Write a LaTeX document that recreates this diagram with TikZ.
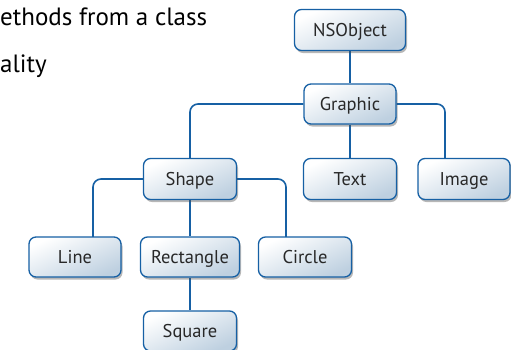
\documentclass[tikz,border=0pt]{standalone}
\usepackage{fontspec}
\setmainfont{PT Sans}
\usetikzlibrary{shadows}
\pgfdeclarelayer{background}
\pgfsetlayers{background,main}
\definecolor{edgeblue}{RGB}{22,96,164}
\definecolor{fillend}{RGB}{190,208,224}
\definecolor{txt}{RGB}{40,40,40}
\tikzset{
  cls/.style={draw=edgeblue, line width=1.3pt, rounded corners=7pt,
    top color=white, bottom color=fillend, shading angle=25,
    drop shadow={shadow xshift=1.5pt, shadow yshift=-2.5pt, opacity=0.4, fill=black!70},
    minimum height=40pt, text=txt, font=\fontsize{18.5}{20}\selectfont,
    inner sep=0pt, text height=16pt, text depth=3.5pt},
  link/.style={draw=edgeblue, line width=1.6pt, rounded corners=8pt},
  big/.style={anchor=base west, inner sep=0pt, text=black, font=\fontsize{25}{28}\selectfont}
}
\begin{document}
\begin{tikzpicture}[x=1pt,y=-1pt]
\useasboundingbox (0,0) rectangle (511,349);
\clip (0,0) rectangle (511,349);
\node[big] (t1) at (0,25) {ethods from a class};
\node[big] (t2) at (0,72) {ality};
\node[cls, minimum width=111pt, minimum height=41pt] (ns) at (350,30) {NSObject};
\node[cls, minimum width=92pt] (gr) at (350,104) {Graphic};
\node[cls, minimum width=93pt, minimum height=41pt] (sh) at (190,179) {Shape};
\node[cls, minimum width=93pt, minimum height=41pt] (tx) at (350,179) {Text};
\node[cls, minimum width=92pt, minimum height=41pt] (im) at (464,179) {Image};
\node[cls, minimum width=92pt] (ln) at (75,257) {Line};
\node[cls, minimum width=99pt] (re) at (190,257) {Rectangle};
\node[cls, minimum width=93pt] (ci) at (305,257) {Circle};
\node[cls, minimum width=93pt] (sq) at (190,331) {Square};
\coordinate (imc) at (445,158);
\coordinate (lnc) at (93,237);
\coordinate (cic) at (286,237);
\begin{pgfonlayer}{background}
\draw[link] (ns.south) -- (gr.north);
\draw[link] (gr.west) -| (sh.north);
\draw[link] (gr.east) -| (imc);
\draw[link] (gr.south) -- (tx.north);
\draw[link] (sh.west) -| (lnc);
\draw[link] (sh.east) -| (cic);
\draw[link] (sh.south) -- (re.north);
\draw[link] (re.south) -- (sq.north);
\end{pgfonlayer}
\end{tikzpicture}
\end{document}
